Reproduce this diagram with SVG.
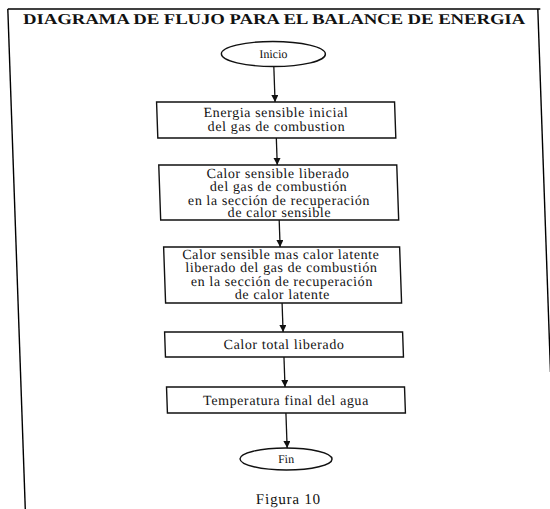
<svg xmlns="http://www.w3.org/2000/svg" width="550" height="509" viewBox="0 0 550 509">
  <style>
    .frame { fill: none; stroke: #000; stroke-width: 1.4; }
    .node { fill: #fff; stroke: #111; stroke-width: 1.4; }
    .edge { fill: none; stroke: #111; stroke-width: 1.3; }
    .title { font-family: "Liberation Serif", "Times New Roman", serif; font-size: 15px; font-weight: bold; fill: #111; }
    .label { font-family: "Liberation Serif", "Times New Roman", serif; font-size: 14px; letter-spacing: 0.6px; fill: #111; text-anchor: middle; }
    .term { font-family: "Liberation Serif", "Times New Roman", serif; font-size: 12px; fill: #111; text-anchor: middle; }
    .caption { font-family: "Liberation Serif", "Times New Roman", serif; font-size: 15px; letter-spacing: 0.8px; fill: #111; text-anchor: middle; }
  </style>
  <defs>
    <marker id="arrow" markerWidth="8" markerHeight="8" refX="7" refY="3.5" orient="auto" markerUnits="userSpaceOnUse">
      <path d="M0,0 L7,3.5 L0,7 Z" fill="#111"/>
    </marker>
  </defs>

  <rect width="550" height="509" fill="#fff"/>

  <!-- the printed page leans slightly to the right -->
  <g transform="skewX(2)">
    <g id="frame">
      <path class="frame" d="M7.5,9 L540,9"/>
      <path class="frame" d="M7.5,9 L7.5,509"/>
      <path class="frame" d="M537.5,9 L537.5,372"/>
      <text class="title" x="22.5" y="24" textLength="502" lengthAdjust="spacingAndGlyphs">DIAGRAMA DE FLUJO PARA EL BALANCE DE ENERGIA</text>
    </g>

    <g id="connectors">
      <path class="edge" marker-end="url(#arrow)" d="M271.5,66.5 L271.5,102"/>
      <path class="edge" marker-end="url(#arrow)" d="M271.5,138 L271.5,165"/>
      <path class="edge" marker-end="url(#arrow)" d="M271.5,220 L271.5,247"/>
      <path class="edge" marker-end="url(#arrow)" d="M271.5,303 L271.5,332"/>
      <path class="edge" marker-end="url(#arrow)" d="M271.5,357 L271.5,387"/>
      <path class="edge" marker-end="url(#arrow)" d="M271.5,413 L271.5,448"/>
    </g>

    <g id="inicio">
      <ellipse class="node" cx="271.5" cy="54" rx="52" ry="12.5"/>
      <text class="term" x="271.5" y="58">Inicio</text>
    </g>

    <g id="energia-inicial">
      <rect class="node" x="153" y="102" width="238" height="36"/>
      <text class="label" x="272" y="117">Energia sensible inicial</text>
      <text class="label" x="272" y="131">del gas de combustion</text>
    </g>

    <g id="calor-sensible">
      <rect class="node" x="153" y="165" width="238" height="55"/>
      <text class="label" x="272" y="178">Calor sensible liberado</text>
      <text class="label" x="272" y="191.5">del gas de combustión</text>
      <text class="label" x="272" y="205">en la sección de recuperación</text>
      <text class="label" x="272" y="217.5">de calor sensible</text>
    </g>

    <g id="calor-latente">
      <rect class="node" x="155" y="247" width="236" height="56"/>
      <text class="label" x="272" y="259">Calor sensible mas calor latente</text>
      <text class="label" x="272" y="272.5">liberado del gas de combustión</text>
      <text class="label" x="272" y="286">en la sección de recuperación</text>
      <text class="label" x="272" y="299.5">de calor latente</text>
    </g>

    <g id="calor-total">
      <rect class="node" x="153" y="332" width="238" height="25"/>
      <text class="label" x="272" y="349">Calor total liberado</text>
    </g>

    <g id="temperatura-final">
      <rect class="node" x="153" y="387" width="238" height="26"/>
      <text class="label" x="272" y="405">Temperatura final del agua</text>
    </g>

    <g id="fin">
      <ellipse class="node" cx="270" cy="459" rx="46" ry="11"/>
      <text class="term" x="270" y="463">Fin</text>
    </g>

    <text class="caption" x="271" y="504">Figura 10</text>
  </g>
</svg>
